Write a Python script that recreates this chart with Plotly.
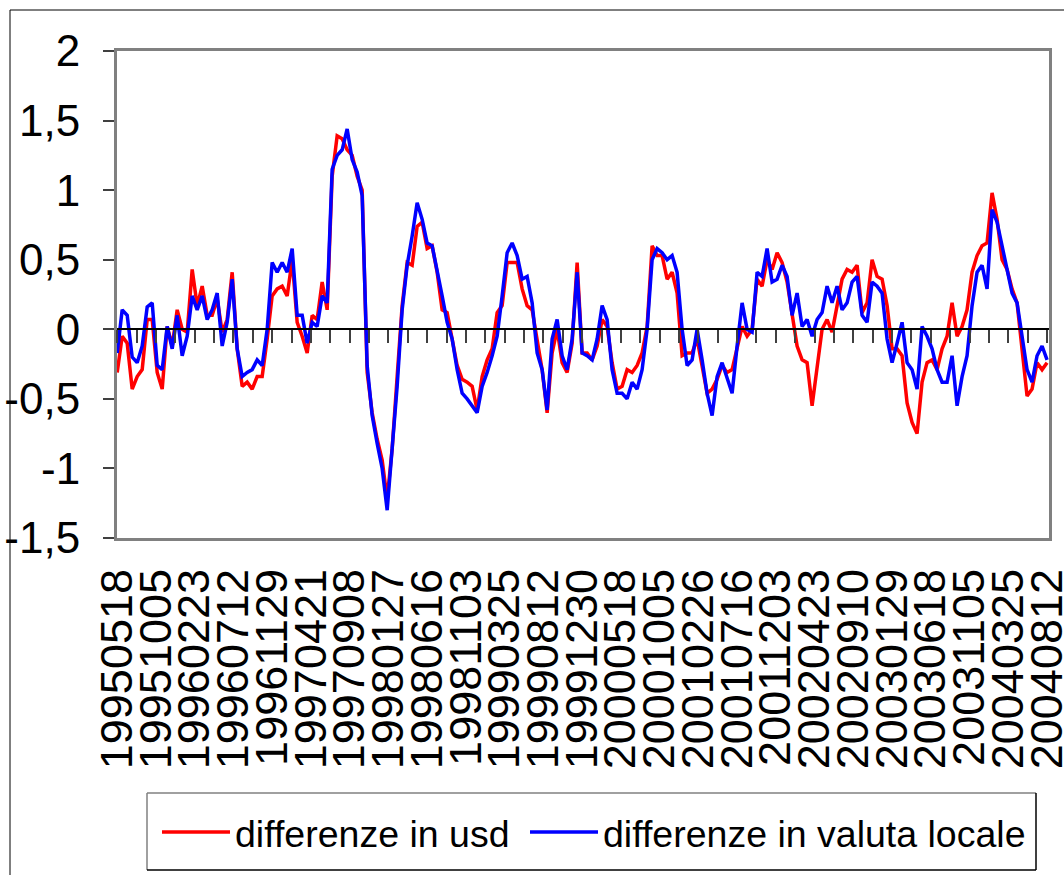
import numpy as np
import plotly.graph_objects as go

# date labels on the category axis (every 100 trading days)
date_labels = ["19950518", "19951005", "19960223", "19960712", "19961129",
               "19970421", "19970908", "19980127", "19980616", "19981103",
               "19990325", "19990812", "19991230", "20000518", "20001005",
               "20010226", "20010716", "20011203", "20020423", "20020910",
               "20030129", "20030618", "20031105", "20040325", "20040812"]

# series (regular sampling across the period)
diff_usd = [
    -0.31, -0.05, -0.10, -0.43, -0.34, -0.29, 0.07, 0.07, -0.31, -0.43, 0.02, -0.12, 0.14, 0.0, -0.02, 0.43,
    0.17, 0.31, 0.10, 0.10, 0.22, -0.02, 0.07, 0.41, -0.14, -0.41, -0.38, -0.43, -0.34, -0.34, -0.07, 0.24,
    0.29, 0.31, 0.24, 0.50, 0.05, -0.05, -0.17, 0.10, 0.07, 0.34, 0.14, 1.10, 1.39, 1.37, 1.29, 1.25,
    1.10, 1.00, -0.31, -0.60, -0.79, -0.94, -1.22, -0.86, -0.34, 0.17, 0.48, 0.46, 0.74, 0.77, 0.58,
    0.60, 0.41, 0.14, 0.12, -0.07, -0.26, -0.36, -0.38, -0.41, -0.58, -0.34, -0.22, -0.14, 0.12, 0.17, 0.48,
    0.48, 0.48, 0.29, 0.17, 0.14, -0.07, -0.29, -0.60, -0.17, 0.0, -0.24, -0.31, -0.10, 0.48, -0.17,
    -0.17, -0.22, -0.12, 0.07, 0.02, -0.24, -0.43, -0.41, -0.29, -0.31, -0.26, -0.17, 0.02, 0.60, 0.53, 0.53,
    0.36, 0.41, 0.26, -0.19, -0.17, -0.17, -0.07, -0.26, -0.46, -0.43, -0.36, -0.26, -0.31, -0.29, -0.12,
    0.02, -0.05, 0.0, 0.36, 0.31, 0.50, 0.43, 0.55, 0.48, 0.34, 0.12, -0.12, -0.22, -0.24, -0.55, -0.26,
    0.0, 0.07, -0.02, 0.17, 0.36, 0.43, 0.41, 0.46, 0.12, 0.19, 0.50, 0.38, 0.36, 0.17, -0.14,
    -0.14, -0.19, -0.53, -0.67, -0.75, -0.38, -0.24, -0.22, -0.29, -0.14, -0.05, 0.19, -0.05, 0.02, 0.14, 0.41,
    0.53, 0.60, 0.62, 0.98, 0.79, 0.50, 0.43, 0.29, 0.19, -0.12, -0.48, -0.43, -0.24, -0.29, -0.24,
]

diff_local = [
    -0.17, 0.14, 0.10, -0.20, -0.24, -0.12, 0.16, 0.19, -0.26, -0.29, 0.02, -0.14, 0.10, -0.19, -0.05, 0.24,
    0.14, 0.24, 0.07, 0.14, 0.26, -0.12, 0.05, 0.36, -0.14, -0.34, -0.31, -0.29, -0.22, -0.26, 0.0, 0.48,
    0.41, 0.48, 0.41, 0.58, 0.10, 0.10, -0.10, 0.05, 0.02, 0.24, 0.19, 1.15, 1.25, 1.29, 1.44, 1.22,
    1.13, 0.96, -0.26, -0.62, -0.82, -1.00, -1.30, -0.89, -0.41, 0.14, 0.46, 0.67, 0.91, 0.79, 0.62,
    0.60, 0.43, 0.24, 0.05, -0.07, -0.29, -0.46, -0.50, -0.55, -0.60, -0.41, -0.31, -0.19, -0.05, 0.24, 0.55,
    0.62, 0.53, 0.36, 0.38, 0.19, -0.17, -0.29, -0.58, -0.07, 0.07, -0.19, -0.29, -0.07, 0.41, -0.17,
    -0.19, -0.22, -0.07, 0.17, 0.07, -0.29, -0.46, -0.46, -0.50, -0.38, -0.43, -0.29, 0.0, 0.50, 0.58, 0.55,
    0.50, 0.53, 0.41, 0.0, -0.26, -0.22, 0.0, -0.22, -0.46, -0.62, -0.34, -0.24, -0.36, -0.46, -0.12,
    0.19, 0.0, -0.02, 0.41, 0.38, 0.58, 0.34, 0.36, 0.46, 0.38, 0.10, 0.26, 0.02, 0.07, -0.05, 0.07,
    0.12, 0.31, 0.19, 0.31, 0.14, 0.19, 0.34, 0.38, 0.10, 0.05, 0.34, 0.31, 0.26, -0.07, -0.24,
    -0.10, 0.05, -0.24, -0.29, -0.43, 0.02, -0.05, -0.14, -0.29, -0.38, -0.38, -0.19, -0.55, -0.34, -0.19, 0.17,
    0.41, 0.46, 0.29, 0.86, 0.77, 0.60, 0.46, 0.26, 0.19, -0.07, -0.29, -0.38, -0.19, -0.12, -0.22,
]

y_tickvals = [-1.5, -1, -0.5, 0, 0.5, 1, 1.5, 2]
y_ticktext = ["-1,5", "-1", "-0,5", "0", "0,5", "1", "1,5", "2"]

n = len(diff_local)
assert n == len(diff_usd)
day = np.arange(n) * 2400.0 / (n - 1)   # trading-day index of each sample
label_pos = [i * 100 for i in range(len(date_labels))]

FONT = "Arial, Liberation Sans, sans-serif"

# pixel geometry helpers (plot area 117..1049 x 51..538)
L, R, T, B = 117, 1049, 51, 538
def px(xp):
    return (xp - L) / (R - L)
def py(yp):
    return (B - yp) / (B - T)

fig = go.Figure()
fig.add_trace(go.Scatter(x=day, y=diff_usd, mode="lines", name="differenze in usd",
                         line=dict(color="#FF0000", width=3.5), legend="legend"))
fig.add_trace(go.Scatter(x=day, y=diff_local, mode="lines", name="differenze in valuta locale",
                         line=dict(color="#0000FF", width=3.5), legend="legend2"))
# empty trace so the zero-crossing category axis is drawn
fig.add_trace(go.Scatter(x=[], y=[], xaxis="x2", yaxis="y", showlegend=False, hoverinfo="skip"))

leg_common = dict(orientation="h", xanchor="left", y=py(832), yanchor="middle",
                  font=dict(size=37.5, family=FONT), borderwidth=0,
                  bgcolor="rgba(0,0,0,0)", itemwidth=68)

xr = [-0.5, 2405]
fig.update_layout(
    width=1064, height=875,
    margin=dict(l=L, r=1064 - R, t=T, b=875 - B, autoexpand=False),
    paper_bgcolor="white", plot_bgcolor="white",
    font=dict(family=FONT, color="black"),
    showlegend=True,
    legend=dict(x=px(157), **leg_common),
    legend2=dict(x=px(525), **leg_common),
    xaxis=dict(range=xr, showgrid=False, zeroline=False, showline=True, linecolor="#808080",
               linewidth=3, mirror=True, tickmode="array", tickvals=label_pos, ticktext=date_labels,
               tickangle=-90, ticks="outside", ticklen=10, tickcolor="rgba(0,0,0,0)",
               ticklabeloverflow="allow", automargin=False,
               tickfont=dict(size=45, family=FONT)),
    xaxis2=dict(range=xr, overlaying="x", anchor="free", position=1.5 / 3.5, showgrid=False,
                zeroline=False, showline=True, linecolor="black", linewidth=1.5,
                ticks="outside", ticklen=13, tickcolor="#404040", tickwidth=1.5, automargin=False,
                tickmode="linear", tick0=50, dtick=50, showticklabels=False),
    yaxis=dict(range=[-1.5, 2], showgrid=False, zeroline=False, showline=True, linecolor="#808080",
               linewidth=3, mirror=True, tickmode="array", tickvals=y_tickvals, ticktext=y_ticktext,
               ticks="outside", ticklen=11, tickcolor="#404040", tickwidth=1.5, automargin=False,
               ticklabelstandoff=14, tickfont=dict(size=44, family=FONT)),
)

# outer chart border
fig.add_shape(type="rect", xref="paper", yref="paper",
              x0=px(10), x1=px(1070), y0=py(890), y1=py(10),
              line=dict(color="black", width=1), fillcolor="rgba(0,0,0,0)", layer="below")
# legend frame: grey top/left, black bottom/right
lx0, lx1, ly0, ly1 = 147, 1036, 793, 870
for (a, b, c, d, col) in [(lx0, ly0, lx1, ly0, "#808080"), (lx0, ly0, lx0, ly1, "#808080"),
                          (lx0, ly1, lx1, ly1, "black"), (lx1, ly0, lx1, ly1, "black")]:
    fig.add_shape(type="line", xref="paper", yref="paper",
                  x0=px(a), y0=py(b), x1=px(c), y1=py(d), line=dict(color=col, width=1.5))

fig.write_html("out.html")
